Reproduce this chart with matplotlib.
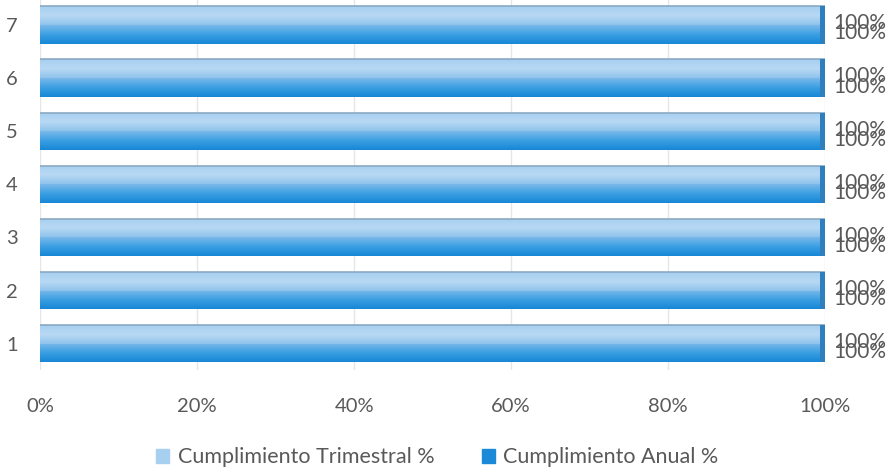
import numpy as np
import matplotlib.pyplot as plt
from matplotlib.colors import LinearSegmentedColormap
from matplotlib.ticker import PercentFormatter

plt.rcParams['font.family'] = ['Lato', 'DejaVu Sans']

categories = ['1', '2', '3', '4', '5', '6', '7']
trimestral = [1.0, 1.0, 1.0, 1.0, 1.0, 1.0, 1.0]
anual = [1.0, 1.0, 1.0, 1.0, 1.0, 1.0, 1.0]
series_names = ['Cumplimiento Trimestral %', 'Cumplimiento Anual %']

txt = '#595959'
light_cmap = LinearSegmentedColormap.from_list('light', ['#8fc3ec', '#b9d9f4', '#a6cff0'])
dark_cmap = LinearSegmentedColormap.from_list('dark', ['#1687d6', '#3b9fe2', '#7ab8ea'])

fig = plt.figure(figsize=(8.93, 4.74), dpi=100)
ax = fig.add_axes([0.045, 0.219, 0.879, 0.781])

y = np.arange(1, len(categories) + 1)
h = 0.35

bars_t = ax.barh(y + h / 2, trimestral, height=h, color='#a6cff0', zorder=2)
bars_a = ax.barh(y - h / 2, anual, height=h, color='#3b9fe2', zorder=2)

# gradient fill clipped to each bar to fake the 3D shading
grad = np.linspace(0, 1, 64).reshape(-1, 1)
for bars, cmap in [(bars_t, light_cmap), (bars_a, dark_cmap)]:
    for b in bars:
        x0, y0 = b.get_x(), b.get_y()
        im = ax.imshow(grad, extent=[x0, x0 + b.get_width(), y0, y0 + b.get_height()],
                       cmap=cmap, aspect='auto', origin='lower', zorder=3)
        im.set_clip_path(b)

# top edge and end cap
for bt, ba in zip(bars_t, bars_a):
    top = bt.get_y() + bt.get_height()
    ax.plot([0, bt.get_width()], [top, top], color='#8aa9c4', lw=1.2, zorder=4)
    ax.barh(ba.get_y() + (top - ba.get_y()) / 2, 0.006, height=top - ba.get_y(),
            left=bt.get_width() - 0.006, color='#2f7fbf', zorder=4)

# data labels (overlapping, as in the original)
for yi, vt, va in zip(y, trimestral, anual):
    ax.annotate(f'{vt:.0%}', (vt, yi + 0.03), xytext=(6, 0), textcoords='offset points',
                va='center', ha='left', fontsize=15, color=txt)
    ax.annotate(f'{va:.0%}', (va, yi - 0.16), xytext=(6, 0), textcoords='offset points',
                va='center', ha='left', fontsize=15, color=txt)

ax.set_xlim(0, 1)
ax.set_ylim(0.5, 7.47)
ax.set_xticks(np.linspace(0, 1, 6))
ax.xaxis.set_major_formatter(PercentFormatter(1.0, decimals=0))
ax.set_yticks(y)
ax.set_yticklabels(categories)
ax.tick_params(axis='x', length=0, pad=20, labelsize=14.5, labelcolor=txt)
ax.tick_params(axis='y', length=0, pad=16, labelsize=14.5, labelcolor=txt)
ax.grid(axis='x', color='#e6e6e6', lw=1, zorder=0)
for s in ax.spines.values():
    s.set_visible(False)

handles = [plt.Rectangle((0, 0), 1, 1, color='#a6cff0'), plt.Rectangle((0, 0), 1, 1, color='#1a8ad8')]
fig.legend(handles, series_names, loc='center', bbox_to_anchor=(0.49, 0.035), ncol=2,
           frameon=False, fontsize=15.5, labelcolor=txt, handlelength=0.6, handleheight=0.6,
           handletextpad=0.4, columnspacing=2.2)

fig.savefig('out.png', dpi=100)
